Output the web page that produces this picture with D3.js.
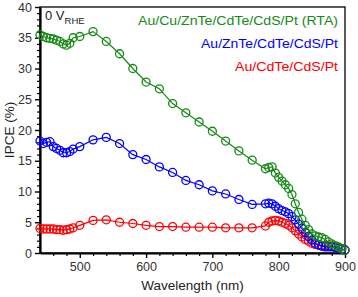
<!DOCTYPE html>
<html>
<head>
<meta charset="utf-8">
<script src="https://cdn.jsdelivr.net/npm/d3@7"></script>
<style>
  body { margin: 0; background: #fff; }
  text { font-family: "Liberation Sans", Arial, sans-serif; }
</style>
</head>
<body>
<div id="chart"></div>
<script>
// wavelengths (nm): dense at both ends, 20 nm steps in the middle
var wavelength = [440, 445, 450, 455, 460, 465, 470, 475, 480, 485, 490, 500,
    520, 540, 560, 580, 600, 620, 640, 660, 680, 700, 720, 740, 760, 780,
    785, 790, 795, 800, 805, 810, 815, 820, 825, 830, 835, 840, 845, 850,
    855, 860, 865, 870, 875, 880, 885, 890, 895, 900];

var ipce_rta = [35.5, 35.2, 35.0, 34.9, 34.8, 34.6, 34.4, 34.0, 33.8, 34.1, 35.0, 35.2,
    36.0, 34.4, 32.4, 30.0, 27.8, 26.7, 24.3, 22.8, 21.3, 19.8, 18.2, 16.6, 15.1, 13.7,
    13.9, 14.0, 13.0, 12.3, 11.7, 11.1, 10.5, 9.5, 8.0, 6.6, 5.5, 4.5, 3.8, 3.1,
    2.8, 2.6, 2.5, 2.2, 1.8, 1.5, 1.2, 1.0, 0.7, 0.4];

var ipce_znte = [18.2, 17.8, 18.0, 18.1, 17.3, 17.0, 16.7, 16.3, 16.3, 16.5, 16.9, 17.3,
    18.4, 18.8, 17.8, 16.0, 15.2, 14.0, 13.1, 11.8, 11.1, 10.1, 9.6, 8.7, 7.9, 8.0,
    8.1, 8.0, 7.6, 7.2, 6.9, 6.7, 6.4, 5.9, 5.4, 4.7, 4.0, 3.3, 2.7, 2.1,
    1.6, 1.3, 1.1, 1.0, 1.0, 1.0, 0.9, 0.7, 0.6, 0.5];

var ipce_cdte = [4.0, 3.9, 3.9, 3.9, 3.9, 3.8, 3.8, 3.7, 3.8, 3.9, 4.1, 4.5,
    5.3, 5.4, 5.0, 4.8, 4.5, 4.3, 4.3, 4.2, 4.2, 4.2, 4.1, 4.1, 4.1, 4.4,
    5.0, 5.2, 5.3, 5.2, 5.0, 4.8, 4.5, 4.1, 3.6, 3.1, 2.6, 2.2, 1.9, 1.6,
    1.4, 1.3, 1.25, 1.2, 1.2, 1.1, 1.0, 0.9, 0.7, 0.5];

var series_names = ["Au/Cu/ZnTe/CdTe/CdS/Pt (RTA)", "Au/ZnTe/CdTe/CdS/Pt", "Au/CdTe/CdS/Pt"];
var series_colors = ["#168a16", "#0000ff", "#ff0000"];
var series_values = [ipce_rta, ipce_znte, ipce_cdte];
var legend_widths = [200, 137, 103];

var x_ticks = [500, 600, 700, 800, 900];
var y_ticks = [0, 5, 10, 15, 20, 25, 30, 35, 40];

var width = 358, height = 297;
var margin = {left: 40, right: 13, top: 7, bottom: 44};

var svg = d3.select("#chart")
    .append("svg")
    .attr("width", width)
    .attr("height", height);

var x = d3.scaleLinear().domain([440, 900]).range([margin.left, width - margin.right]);
var y = d3.scaleLinear().domain([0, 40]).range([height - margin.bottom, margin.top]);

// frame (top / right)
svg.append("rect")
    .attr("x", x(440))
    .attr("y", y(40))
    .attr("width", x(900) - x(440))
    .attr("height", y(0) - y(40))
    .attr("fill", "none")
    .attr("stroke", "#000")
    .attr("stroke-width", 1.3);

// minor ticks
var x_minor = d3.range(460, 900, 20).filter(function(d){ return d % 100 !== 0; });
var y_minor = d3.range(1, 40, 1).filter(function(d){ return d % 5 !== 0; });

svg.append("g")
    .attr("transform", "translate(0," + y(0) + ")")
    .call(d3.axisBottom(x).tickValues(x_minor).tickSize(3).tickFormat(""))
    .call(function(g){ g.select(".domain").remove(); })
    .selectAll("line").attr("stroke-width", 1.2);

svg.append("g")
    .attr("transform", "translate(" + x(440) + ",0)")
    .call(d3.axisLeft(y).tickValues(y_minor).tickSize(3).tickFormat(""))
    .call(function(g){ g.select(".domain").remove(); })
    .selectAll("line").attr("stroke-width", 1.2);

// major axes
var xAxis = svg.append("g")
    .attr("transform", "translate(0," + y(0) + ")")
    .call(d3.axisBottom(x).tickValues(x_ticks).tickSize(5).tickSizeOuter(0).tickPadding(4));
xAxis.select(".domain").attr("stroke-width", 2.2);
xAxis.selectAll("line").attr("stroke-width", 1.4);
xAxis.selectAll("text")
    .attr("font-size", "12.5px")
    .attr("fill", "#333");

var yAxis = svg.append("g")
    .attr("transform", "translate(" + x(440) + ",0)")
    .call(d3.axisLeft(y).tickValues(y_ticks).tickSize(5).tickSizeOuter(0).tickPadding(3));
yAxis.select(".domain").attr("stroke-width", 2.2);
yAxis.selectAll("line").attr("stroke-width", 1.4);
yAxis.selectAll("text")
    .attr("font-size", "12.5px")
    .attr("fill", "#333");

// axis titles
svg.append("text")
    .attr("x", (x(440) + x(900)) / 2)
    .attr("y", 290)
    .attr("text-anchor", "middle")
    .attr("font-size", "13.5px")
    .attr("fill", "#222")
    .text("Wavelength (nm)");

svg.append("text")
    .attr("transform", "translate(14," + (y(20)) + ") rotate(-90)")
    .attr("text-anchor", "middle")
    .attr("font-size", "13.5px")
    .attr("fill", "#222")
    .text("IPCE (%)");

// series
var line = d3.line()
    .x(function(d){ return x(d[0]); })
    .y(function(d){ return y(d[1]); });

series_values.slice().reverse().forEach(function(vals, k) {
    var i = series_values.length - 1 - k;
    var pts = wavelength.map(function(w, j){ return [w, vals[j]]; });
    var g = svg.append("g");
    g.append("path")
        .datum(pts)
        .attr("d", line)
        .attr("fill", "none")
        .attr("stroke", series_colors[i])
        .attr("stroke-width", 1.2);
    g.selectAll("circle")
        .data(pts)
        .enter()
        .append("circle")
        .attr("cx", function(d){ return x(d[0]); })
        .attr("cy", function(d){ return y(d[1]); })
        .attr("r", 4)
        .attr("fill", "none")
        .attr("stroke", series_colors[i])
        .attr("stroke-width", 1.3);
});

// legend
series_names.forEach(function(name, i) {
    svg.append("text")
        .attr("x", 338)
        .attr("y", 25 + i * 23)
        .attr("text-anchor", "end")
        .attr("font-size", "13px")
        .attr("textLength", legend_widths[i])
        .attr("lengthAdjust", "spacingAndGlyphs")
        .attr("fill", series_colors[i])
        .text(name);
});

// potential label
var lab = svg.append("text")
    .attr("x", 45)
    .attr("y", 20)
    .attr("font-size", "13px")
    .attr("fill", "#222");
lab.append("tspan").text("0 V");
lab.append("tspan")
    .attr("font-size", "9.5px")
    .attr("dy", 4)
    .text("RHE");
</script>
</body>
</html>
